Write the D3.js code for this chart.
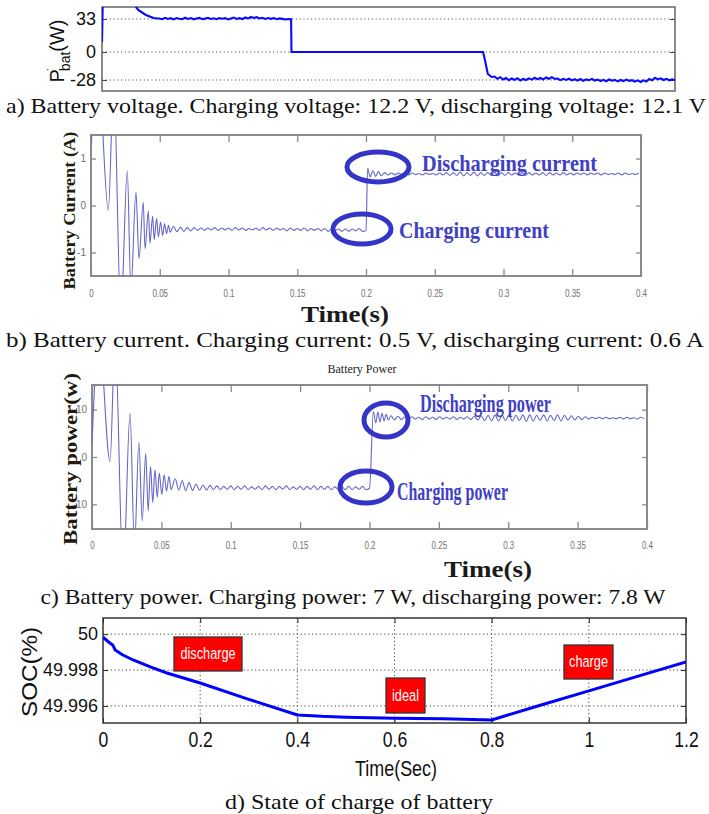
<!DOCTYPE html>
<html>
<head>
<meta charset="utf-8">
<script src="https://cdn.jsdelivr.net/npm/d3@7"></script>
<style>
  body { margin: 0; background: #fff; }
  svg { display: block; }
</style>
</head>
<body>
<svg id="fig" width="709" height="814"></svg>
<script>
// ---------- data ----------
// a) P_bat (W), time in arbitrary units 0..3
const pbatTicks = [33, 0, -28];
const pbatStartT = [0, 0.004, 0.17, 0.19, 0.21, 0.23, 0.25, 0.27, 0.29];
const pbatStartV = [10, 50, 47, 42, 39.5, 37, 35.5, 34, 33.5];
const pbatCharge = [33.5, 32.8, 34.2, 33.0, 33.8, 32.6, 34.0, 33.2, 32.9, 34.3, 33.1, 33.9, 32.7, 33.6, 34.1, 32.9,
  33.4, 34.2, 33.0, 33.7, 32.8, 34.0, 33.3, 33.9, 32.6, 33.5, 34.4, 33.1, 33.8, 32.9, 34.5, 33.6,
  35.0, 34.1, 34.8, 33.5, 34.2, 33.0, 33.9, 33.2, 34.0, 32.8, 33.6, 33.1, 32.5, 33.0];
const pbatIdleT = [0.99, 0.992, 1.995, 2.005, 2.02, 2.04];
const pbatIdleV = [32.8, 0, 0, -8, -22, -25];
const pbatDischarge = [-24.5, -26.8, -25.2, -27.5, -26.0, -28.2, -26.5, -27.8, -26.2, -28.5, -27.0, -28.0, -26.4,
  -27.6, -25.8, -27.2, -26.0, -27.5, -25.5, -26.8, -25.2, -26.9, -26.5, -28.1, -26.8, -27.9, -26.7, -28.4,
  -27.2, -28.6, -27.0, -28.8, -27.4, -28.2, -26.9, -28.5, -27.6, -29.0, -27.8, -29.2, -27.5, -28.7, -27.9,
  -29.4, -28.0, -29.1, -27.6, -28.8, -28.2, -29.6, -28.4, -30.0, -28.3, -29.5, -27.0, -28.2, -25.8, -27.4,
  -26.3, -28.0, -26.8, -28.3, -27.4, -28.0];

// b) and c) common time axis
const scopeTimeTicks = [0, 0.05, 0.1, 0.15, 0.2, 0.25, 0.3, 0.35, 0.4];
const scopeTimeLabels = ["0", "0.05", "0.1", "0.15", "0.2", "0.25", "0.3", "0.35", "0.4"];

// b) battery current (A)
const currentTicks = [1, 0, -1];
const currentTransT = [0, 0.005, 0.0126, 0.0165, 0.0217, 0.0264, 0.029, 0.0327, 0.0349, 0.038, 0.0393, 0.0417,
  0.0429, 0.0448, 0.046, 0.0477, 0.049, 0.0506, 0.0521, 0.0535, 0.0549, 0.0564, 0.0575];
const currentTransV = [1.28, 3.0, -0.1, 2.6, -2.3, 0.74, -1.8, 0.28, -1.13, 0.07, -0.92, -0.12, -0.8, -0.23,
  -0.73, -0.28, -0.67, -0.35, -0.64, -0.39, -0.6, -0.42, -0.57];
const currentCharge = [-0.44, -0.56, -0.46, -0.55, -0.47, -0.54, -0.47, -0.53, -0.48, -0.53, -0.48, -0.52, -0.47,
  -0.53, -0.48, -0.52, -0.48, -0.53, -0.47, -0.52, -0.48, -0.53, -0.49, -0.52, -0.48, -0.53, -0.47, -0.52,
  -0.48, -0.53, -0.48, -0.52, -0.49, -0.54, -0.48, -0.53, -0.49, -0.53, -0.48, -0.54, -0.49, -0.53, -0.49,
  -0.54, -0.49, -0.55, -0.5, -0.54, -0.5, -0.55, -0.5, -0.55, -0.5, -0.54, -0.49, -0.55];
const currentJumpT = [0.2, 0.2012, 0.203, 0.205, 0.207, 0.209, 0.211];
const currentJumpV = [-0.53, 0.79, 0.61, 0.74, 0.62, 0.72, 0.63];
const currentDischarge = [0.70, 0.65, 0.69, 0.65, 0.69, 0.66, 0.69, 0.65, 0.69, 0.66, 0.68, 0.65, 0.69, 0.66, 0.68,
  0.65, 0.69, 0.65, 0.70, 0.64, 0.70, 0.64, 0.71, 0.63, 0.70, 0.64, 0.71, 0.63, 0.70, 0.64, 0.70, 0.64, 0.71,
  0.63, 0.70, 0.64, 0.70, 0.65, 0.69, 0.65, 0.70, 0.64, 0.70, 0.65, 0.69, 0.65, 0.70, 0.64, 0.70, 0.65, 0.69,
  0.65, 0.70, 0.65, 0.69, 0.65, 0.69, 0.66, 0.69, 0.65, 0.69, 0.66, 0.69, 0.65, 0.69, 0.66, 0.68, 0.66, 0.69,
  0.65, 0.69, 0.66, 0.68, 0.66, 0.69];

// c) battery power (W)
const powerTicks = [10, 0, -10];
const powerTransT = [0, 0.005, 0.013, 0.0166, 0.0225, 0.0274, 0.0306, 0.0338, 0.0362, 0.0387, 0.0405, 0.0422,
  0.0438, 0.0454, 0.047, 0.0485, 0.0503, 0.052, 0.0537, 0.0555, 0.057];
const powerTransV = [2.9, 26, -1.0, 25, -25, 9.2, -19, 3.1, -13.5, 0.8, -11.4, -2.0, -9.6, -2.7, -8.5, -3.4,
  -7.9, -3.75, -7.2, -4.1, -6.9];
const powerCharge = [-4.6, -7.0, -5.0, -7.1, -5.4, -7.1, -5.7, -7.0, -5.9, -7.0, -6.0, -6.9, -6.1, -6.9, -6.2,
  -6.8, -6.1, -6.9, -6.2, -6.8, -6.1, -6.9, -6.3, -6.8, -6.2, -6.9, -6.1, -6.8, -6.2, -6.9, -6.2, -6.8, -6.1,
  -6.9, -6.3, -6.8, -6.2, -6.9, -6.2, -6.8, -6.1, -6.9, -6.2, -6.8, -6.2, -6.9, -6.3, -6.8, -6.2, -6.9, -6.2,
  -6.9, -6.3, -6.8, -6.2, -6.9];
const powerJumpT = [0.2, 0.2028, 0.2045, 0.206, 0.2075, 0.209, 0.2105, 0.212, 0.2135];
const powerJumpV = [-6.6, 9.6, 7.2, 9.5, 7.4, 9.2, 7.6, 9.0, 7.8];
const powerDischarge = [8.7, 7.8, 8.6, 7.9, 8.5, 7.9, 8.5, 8.0, 8.4, 7.9, 8.5, 8.0, 8.4, 7.9, 8.5, 8.0, 8.4, 8.0,
  8.5, 7.9, 8.4, 8.0, 8.5, 7.9, 8.6, 7.8, 8.7, 7.7, 8.8, 7.6, 8.9, 7.6, 8.8, 7.7, 8.9, 7.6, 8.8, 7.7, 8.9,
  7.5, 8.9, 7.6, 8.8, 7.7, 8.9, 7.6, 8.8, 7.7, 8.9, 7.6, 8.8, 7.8, 8.7, 7.8, 8.6, 7.9, 8.5, 8.0, 8.4, 8.1,
  8.4, 8.1, 8.4, 8.1, 8.3, 8.1, 8.4, 8.0, 8.4, 8.1, 8.3, 8.0, 8.4, 8.1];

// d) state of charge (%)
const socXTicks = [0, 0.2, 0.4, 0.6, 0.8, 1, 1.2];
const socYTicks = [50, 49.998, 49.996];
const socTime = [0, 0.012, 0.02, 0.025, 0.04, 0.062, 0.1, 0.13, 0.2, 0.3, 0.4, 0.45, 0.5, 0.6, 0.7, 0.8, 0.9,
  1.0, 1.1, 1.2];
const socValue = [49.99983, 49.99955, 49.9994, 49.99912, 49.99885, 49.99856, 49.99815, 49.99785, 49.99728,
  49.99637, 49.9955, 49.99542, 49.99537, 49.99532, 49.99528, 49.99522, 49.99604, 49.99684, 49.99765, 49.99845];
const socModes = ["discharge", "ideal", "charge"];

// ---------- drawing ----------
const serif = "'Liberation Serif', 'Times New Roman', serif",
      sans = "'Liberation Sans', Arial, sans-serif",
      narrow = "'Liberation Sans Narrow', 'Arial Narrow', 'Liberation Sans', sans-serif";

const svg = d3.select("#fig");
svg.append("rect").attr("width", 709).attr("height", 814).attr("fill", "#fff");
const defs = svg.append("defs");

function addClip(id, x0, y0, x1, y1) {
    defs.append("clipPath").attr("id", id).append("rect")
        .attr("x", x0).attr("y", y0).attr("width", x1 - x0).attr("height", y1 - y0);
}

// captions are set wide in the source figure, so force their width
function caption(text, x, y, width) {
    svg.append("text")
        .attr("x", x).attr("y", y)
        .attr("text-anchor", "middle")
        .attr("textLength", width).attr("lengthAdjust", "spacingAndGlyphs")
        .attr("font-family", serif).attr("font-size", 21)
        .attr("fill", "#111")
        .text(text);
}

// ---- a) P_bat
const ax = d3.scaleLinear().domain([0, 3]).range([102, 675]),
      ay = d3.scaleLinear().domain([-39, 45]).range([91, 7]);
const pa = svg.append("g");
pa.selectAll(".a-grid").data(pbatTicks).enter().append("line")
    .attr("class", "a-grid")
    .attr("x1", ax(0)).attr("x2", ax(3))
    .attr("y1", d => ay(d)).attr("y2", d => ay(d))
    .attr("stroke", "#555").attr("stroke-width", 1)
    .attr("stroke-dasharray", "1.2,2.6");
pa.append("g").attr("transform", `translate(${ax(0)},0)`)
    .call(d3.axisLeft(ay).tickValues(pbatTicks).tickFormat(String).tickSize(-5).tickPadding(6))
    .call(g => g.select(".domain").remove())
    .attr("font-family", sans).attr("font-size", 18)
    .call(g => g.selectAll(".tick text").attr("fill", "#111"))
    .call(g => g.selectAll(".tick line").attr("stroke", "#444"));
pa.append("g").attr("transform", `translate(${ax(3)},0)`)
    .call(d3.axisRight(ay).tickValues(pbatTicks).tickFormat("").tickSize(-5))
    .call(g => g.select(".domain").remove())
    .call(g => g.selectAll(".tick line").attr("stroke", "#444"));
pa.append("rect")
    .attr("x", ax(0)).attr("y", ay(45))
    .attr("width", ax(3) - ax(0)).attr("height", ay(-39) - ay(45))
    .attr("fill", "none").attr("stroke", "#666").attr("stroke-width", 1.5);
addClip("clip-a", ax(0), ay(45), ax(3), ay(-39));
const pbatSeries = [].concat(
    pbatStartT.map((t, i) => [t, pbatStartV[i]]),
    pbatCharge.map((v, i) => [0.3 + i * 0.015, v]),
    pbatIdleT.map((t, i) => [t, pbatIdleV[i]]),
    pbatDischarge.map((v, i) => [2.055 + i * 0.015, v])
);
pa.append("path").datum(pbatSeries)
    .attr("clip-path", "url(#clip-a)")
    .attr("d", d3.line().x(d => ax(d[0])).y(d => ay(d[1])))
    .attr("fill", "none").attr("stroke", "#0a0aff").attr("stroke-width", 2.1);
const aLabel = pa.append("text")
    .attr("transform", "translate(64,51) rotate(-90)")
    .attr("text-anchor", "middle")
    .attr("font-family", sans).attr("font-size", 20).attr("fill", "#111");
aLabel.append("tspan").text("P");
aLabel.append("tspan").attr("font-size", 12).attr("dy", -8).attr("dx", -2).text("˙");
aLabel.append("tspan").attr("font-size", 14).attr("dy", 14).attr("dx", -4).text("bat");
aLabel.append("tspan").attr("dy", -6).text("(W)");
caption("a) Battery voltage. Charging voltage: 12.2 V, discharging voltage: 12.1 V", 356, 113, 700);

// ---- b) and c) oscilloscope-like panels
function drawScope(o) {
    const x = d3.scaleLinear().domain([0, 0.4]).range([o.left, o.right]),
          y = d3.scaleLinear().domain(o.yDomain).range([o.bottom, o.top]);
    const g = svg.append("g");
    const tickStyle = sel => {
        sel.select(".domain").remove();
        sel.selectAll(".tick line").attr("stroke", "#8a8a8a").attr("stroke-width", 1.3);
        sel.selectAll(".tick text").attr("fill", "#707070")
            .attr("font-family", narrow).attr("font-size", 10);
    };
    g.append("g").attr("transform", `translate(0,${o.bottom})`)
        .call(d3.axisBottom(x).tickValues(scopeTimeTicks)
            .tickFormat((d, i) => scopeTimeLabels[i]).tickSize(-7).tickPadding(o.xPad))
        .call(tickStyle)
        .call(s => s.selectAll(".tick text").attr("transform", "scale(0.8,1.15)"));
    g.append("g").attr("transform", `translate(0,${o.top})`)
        .call(d3.axisTop(x).tickValues(scopeTimeTicks).tickFormat("").tickSize(-7))
        .call(tickStyle);
    g.append("g").attr("transform", `translate(${o.left},0)`)
        .call(d3.axisLeft(y).tickValues(o.yTicks).tickFormat(String).tickSize(-5).tickPadding(5))
        .call(tickStyle);
    g.append("g").attr("transform", `translate(${o.right},0)`)
        .call(d3.axisRight(y).tickValues(o.yTicks).tickFormat("").tickSize(-5))
        .call(tickStyle);
    g.append("rect")
        .attr("x", o.left).attr("y", o.top)
        .attr("width", o.right - o.left).attr("height", o.bottom - o.top)
        .attr("fill", "none").attr("stroke", "#8a8a8a").attr("stroke-width", 2);
    addClip(o.id, o.left, o.top, o.right, o.bottom);

    const pts = [].concat(
        o.transT.map((t, i) => [t, o.transV[i]]),
        o.charge.map((v, i) => [0.06 + i * 0.0025, v]),
        o.jumpT.map((t, i) => [t, o.jumpV[i]]),
        o.discharge.map((v, i) => [o.dischargeStart + i * 0.0025, v])
    );
    g.append("path").datum(pts)
        .attr("clip-path", `url(#${o.id})`)
        .attr("d", d3.line().x(d => x(d[0])).y(d => y(d[1])).curve(d3.curveMonotoneX))
        .attr("fill", "none").attr("stroke", "#6666c8").attr("stroke-width", 1.1);

    // highlight rings and notes
    g.selectAll(".ring").data(o.rings).enter().append("ellipse")
        .attr("cx", d => d.cx).attr("cy", d => d.cy)
        .attr("rx", d => d.rx).attr("ry", d => d.ry)
        .attr("fill", "none").attr("stroke", "#3434c6").attr("stroke-width", 5);
    g.selectAll(".note").data(o.notes).enter().append("text")
        .attr("x", d => d.x).attr("y", d => d.y)
        .attr("textLength", d => d.w).attr("lengthAdjust", "spacingAndGlyphs")
        .attr("font-family", serif).attr("font-weight", "bold").attr("font-size", o.noteSize)
        .attr("fill", "#4040c4")
        .text(d => d.text);

    g.append("text")
        .attr("transform", `translate(${o.yLabelX},${(o.top + o.bottom) / 2 + o.yLabelShift}) rotate(-90)`)
        .attr("text-anchor", "middle")
        .attr("textLength", o.yLabelLen).attr("lengthAdjust", "spacingAndGlyphs")
        .attr("font-family", serif).attr("font-weight", "bold").attr("font-size", o.yLabelSize)
        .attr("fill", "#24190d")
        .text(o.yLabel);
    g.append("text")
        .attr("x", o.timeX).attr("y", o.timeY)
        .attr("text-anchor", "middle")
        .attr("textLength", 88).attr("lengthAdjust", "spacingAndGlyphs")
        .attr("font-family", serif).attr("font-weight", "bold").attr("font-size", 23)
        .attr("fill", "#1a1a1a")
        .text("Time(s)");
    return g;
}

drawScope({
    id: "clip-b", left: 91, right: 641, top: 135, bottom: 276,
    yDomain: [-1.5, 1.5], yTicks: currentTicks, xPad: 11,
    transT: currentTransT, transV: currentTransV, charge: currentCharge,
    jumpT: currentJumpT, jumpV: currentJumpV,
    discharge: currentDischarge, dischargeStart: 0.2135,
    rings: [{cx: 378, cy: 167, rx: 31, ry: 15}, {cx: 362, cy: 229, rx: 29, ry: 15}],
    notes: [{text: "Discharging current", x: 422, y: 171, w: 175},
            {text: "Charging current", x: 399, y: 238, w: 150}],
    noteSize: 24,
    yLabel: "Battery Current (A)", yLabelX: 75, yLabelShift: 5, yLabelLen: 158, yLabelSize: 17,
    timeX: 345, timeY: 322
});
caption("b) Battery current. Charging current: 0.5 V, discharging current: 0.6 A", 355, 347, 698);

svg.append("text")
    .attr("x", 362).attr("y", 373)
    .attr("text-anchor", "middle")
    .attr("font-family", serif).attr("font-size", 12).attr("fill", "#222")
    .text("Battery Power");

drawScope({
    id: "clip-c", left: 92, right: 647, top: 385, bottom: 529,
    yDomain: [-15.2, 15.2], yTicks: powerTicks, xPad: 10,
    transT: powerTransT, transV: powerTransV, charge: powerCharge,
    jumpT: powerJumpT, jumpV: powerJumpV,
    discharge: powerDischarge, dischargeStart: 0.2155,
    rings: [{cx: 386, cy: 420, rx: 22, ry: 17}, {cx: 366, cy: 487, rx: 26, ry: 16}],
    notes: [{text: "Discharging power", x: 420, y: 412, w: 131},
            {text: "Charging power", x: 397, y: 500, w: 111}],
    noteSize: 25,
    yLabel: "Battery power(w)", yLabelX: 77, yLabelShift: 2, yLabelLen: 172, yLabelSize: 19,
    timeX: 488, timeY: 577
});
caption("c) Battery power. Charging power: 7 W, discharging power: 7.8 W", 353, 604, 625);

// ---- d) SOC
const dx = d3.scaleLinear().domain([0, 1.2]).range([103, 686]),
      dy = d3.scaleLinear().domain([49.99505, 50.0009]).range([723, 618]);
const pd = svg.append("g");
pd.selectAll(".d-vgrid").data(socXTicks.slice(1, -1)).enter().append("line")
    .attr("class", "d-vgrid")
    .attr("x1", d => dx(d)).attr("x2", d => dx(d))
    .attr("y1", dy.range()[1]).attr("y2", dy.range()[0])
    .attr("stroke", "#444").attr("stroke-dasharray", "1.2,2.6");
pd.selectAll(".d-hgrid").data(socYTicks).enter().append("line")
    .attr("class", "d-hgrid")
    .attr("x1", dx(0)).attr("x2", dx(1.2))
    .attr("y1", d => dy(d)).attr("y2", d => dy(d))
    .attr("stroke", "#444").attr("stroke-dasharray", "1.2,2.6");
const dStyle = sel => {
    sel.select(".domain").remove();
    sel.selectAll(".tick line").attr("stroke", "#222");
    sel.selectAll(".tick text").attr("fill", "#111");
};
pd.append("g").attr("transform", `translate(0,${dy.range()[0]})`)
    .call(d3.axisBottom(dx).tickValues(socXTicks).tickFormat(String).tickSize(-5).tickPadding(8))
    .attr("font-family", sans).attr("font-size", 22)
    .call(dStyle)
    .call(s => s.selectAll(".tick text").attr("transform", "scale(0.8,1)"));
pd.append("g").attr("transform", `translate(0,${dy.range()[1]})`)
    .call(d3.axisTop(dx).tickValues(socXTicks).tickFormat("").tickSize(-5))
    .call(dStyle);
pd.append("g").attr("transform", `translate(${dx(0)},0)`)
    .call(d3.axisLeft(dy).tickValues(socYTicks).tickFormat(String).tickSize(-5).tickPadding(5))
    .attr("font-family", sans).attr("font-size", 18)
    .call(dStyle);
pd.append("g").attr("transform", `translate(${dx(1.2)},0)`)
    .call(d3.axisRight(dy).tickValues(socYTicks).tickFormat("").tickSize(-5))
    .call(dStyle);
pd.append("rect")
    .attr("x", dx(0)).attr("y", dy.range()[1])
    .attr("width", dx(1.2) - dx(0)).attr("height", dy.range()[0] - dy.range()[1])
    .attr("fill", "none").attr("stroke", "#333").attr("stroke-width", 1.5);
addClip("clip-d", dx(0), dy.range()[1], dx(1.2), dy.range()[0]);
pd.append("path").datum(socTime.map((t, i) => [t, socValue[i]]))
    .attr("clip-path", "url(#clip-d)")
    .attr("d", d3.line().x(d => dx(d[0])).y(d => dy(d[1])))
    .attr("fill", "none").attr("stroke", "#0000ff").attr("stroke-width", 3);

// red mode labels
const modeBoxes = [
    {x0: 174, y0: 637, x1: 242, y1: 671},
    {x0: 386, y0: 678, x1: 425, y1: 713},
    {x0: 564, y0: 645, x1: 613, y1: 679}
];
const modes = pd.selectAll(".mode").data(socModes).enter().append("g").attr("class", "mode");
modes.append("rect")
    .attr("x", (d, i) => modeBoxes[i].x0).attr("y", (d, i) => modeBoxes[i].y0)
    .attr("width", (d, i) => modeBoxes[i].x1 - modeBoxes[i].x0)
    .attr("height", (d, i) => modeBoxes[i].y1 - modeBoxes[i].y0)
    .attr("fill", "#ff0000").attr("stroke", "#333").attr("stroke-width", 1.3);
modes.append("text")
    .attr("transform", (d, i) => `translate(${(modeBoxes[i].x0 + modeBoxes[i].x1) / 2},${(modeBoxes[i].y0 + modeBoxes[i].y1) / 2 + 5}) scale(0.85,1.1)`)
    .attr("text-anchor", "middle")
    .attr("font-family", narrow).attr("font-size", 15).attr("fill", "#fff")
    .text(d => d);

pd.append("text")
    .attr("transform", "translate(37,672) rotate(-90)")
    .attr("text-anchor", "middle")
    .attr("textLength", 90).attr("lengthAdjust", "spacingAndGlyphs")
    .attr("font-family", sans).attr("font-size", 22).attr("fill", "#111")
    .text("SOC(%)");
pd.append("text")
    .attr("x", 396).attr("y", 776)
    .attr("text-anchor", "middle")
    .attr("textLength", 82).attr("lengthAdjust", "spacingAndGlyphs")
    .attr("font-family", sans).attr("font-size", 22).attr("fill", "#111")
    .text("Time(Sec)");
caption("d) State of charge of battery", 359, 809, 268);
</script>
</body>
</html>
